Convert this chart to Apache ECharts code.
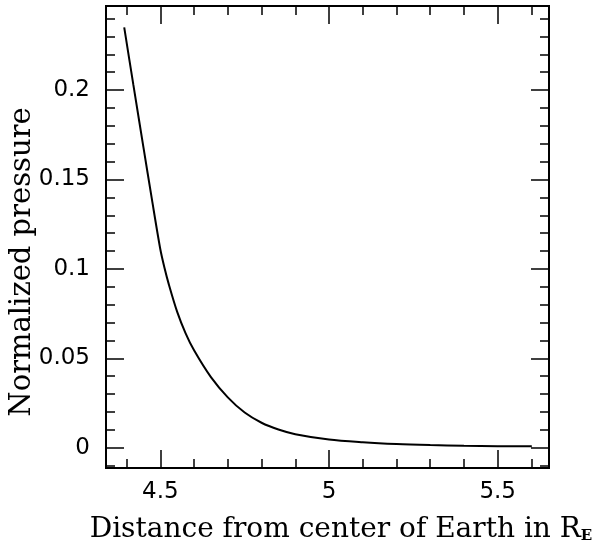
<!DOCTYPE html>
<html>
<head>
<meta charset="utf-8">
<script src="https://cdn.jsdelivr.net/npm/echarts@6/dist/echarts.min.js"></script>
<style>
  html, body { margin: 0; padding: 0; background: #fff; }
  #chart { width: 604px; height: 545px; }
</style>
</head>
<body>
<div id="chart"></div>
<script>
// curve
var distance = [4.393, 4.42, 4.45, 4.475, 4.50, 4.5125, 4.525, 4.55, 4.575, 4.60, 4.65, 4.70, 4.75, 4.80, 4.85, 4.90, 5.0, 5.1, 5.2, 5.3, 5.4, 5.5, 5.601];
var pressure = [0.2351, 0.203, 0.168, 0.139, 0.111, 0.1005, 0.0915, 0.0760, 0.0640, 0.0545, 0.0395, 0.0282, 0.0197, 0.0140, 0.0102, 0.0076, 0.0046, 0.0031, 0.0021, 0.0015, 0.0011, 0.0009, 0.0008];

var xMajorTicks = [4.5, 5, 5.5];
var xMinorTicks = [4.4, 4.6, 4.7, 4.8, 4.9, 5.1, 5.2, 5.3, 5.4, 5.6];
var yMajorTicks = [0, 0.05, 0.1, 0.15, 0.2];
var yMinorTicks = [-0.01, 0.01, 0.02, 0.03, 0.04, 0.06, 0.07, 0.08, 0.09, 0.11, 0.12, 0.13, 0.14,
  0.16, 0.17, 0.18, 0.19, 0.21, 0.22, 0.23, 0.24];

var X_MIN = 4.339, X_MAX = 5.652;
var Y_MIN = -0.0113, Y_MAX = 0.247;

var data = distance.map(function (d, i) { return [d, pressure[i]]; });

var chartDom = document.getElementById('chart');
var myChart = echarts.init(chartDom, null, { renderer: 'canvas' });

function xAx(pos, ticks, len, labels) {
  return {
    type: 'value', position: pos, min: X_MIN, max: X_MAX,
    axisLine: { show: true, onZero: false, lineStyle: { color: '#000', width: 2 } },
    axisTick: { show: true, inside: true, length: len, customValues: ticks, lineStyle: { color: '#000', width: 1.5 } },
    axisLabel: labels ? {
      show: true, customValues: ticks, margin: 13, color: '#000',
      fontFamily: 'DejaVu Sans', fontSize: 23
    } : { show: false },
    splitLine: { show: false }
  };
}
function yAx(pos, ticks, len, labels) {
  return {
    type: 'value', position: pos, min: Y_MIN, max: Y_MAX,
    axisLine: { show: true, onZero: false, lineStyle: { color: '#000', width: 2 } },
    axisTick: { show: true, inside: true, length: len, customValues: ticks, lineStyle: { color: '#000', width: 1.5 } },
    axisLabel: labels ? {
      show: true, customValues: ticks, margin: 16, color: '#000',
      fontFamily: 'DejaVu Sans', fontSize: 23
    } : { show: false },
    splitLine: { show: false }
  };
}

var option = {
  backgroundColor: '#fff',
  animation: false,
  grid: { left: 106, right: 55, top: 6, bottom: 77 },
  xAxis: [
    xAx('bottom', xMajorTicks, 18, true),
    xAx('bottom', xMinorTicks, 9, false),
    xAx('top', xMajorTicks, 18, false),
    xAx('top', xMinorTicks, 9, false)
  ],
  yAxis: [
    yAx('left', yMajorTicks, 18, true),
    yAx('left', yMinorTicks, 9, false),
    yAx('right', yMajorTicks, 18, false),
    yAx('right', yMinorTicks, 9, false)
  ],
  graphic: [{
    type: 'text',
    x: 341,
    y: 530,
    style: {
      text: '{a|Distance from center of Earth in R}{s|E}',
      align: 'center',
      verticalAlign: 'middle',
      rich: {
        a: { fontFamily: 'DejaVu Serif', fontSize: 28, fill: '#000' },
        s: { fontFamily: 'DejaVu Serif', fontSize: 15, fontWeight: 'bold', fill: '#000', padding: [12, 0, 0, 0] }
      }
    }
  }, {
    type: 'text',
    x: 22,
    y: 262,
    rotation: Math.PI / 2,
    style: {
      text: 'Normalized pressure',
      fontFamily: 'DejaVu Serif', fontSize: 29, fill: '#000',
      align: 'center', verticalAlign: 'middle'
    }
  }],
  series: [{
    type: 'line',
    xAxisIndex: 0,
    yAxisIndex: 0,
    data: data,
    smooth: 0.3,
    showSymbol: false,
    lineStyle: { color: '#000', width: 2 }
  }]
};
myChart.setOption(option);
</script>
</body>
</html>
